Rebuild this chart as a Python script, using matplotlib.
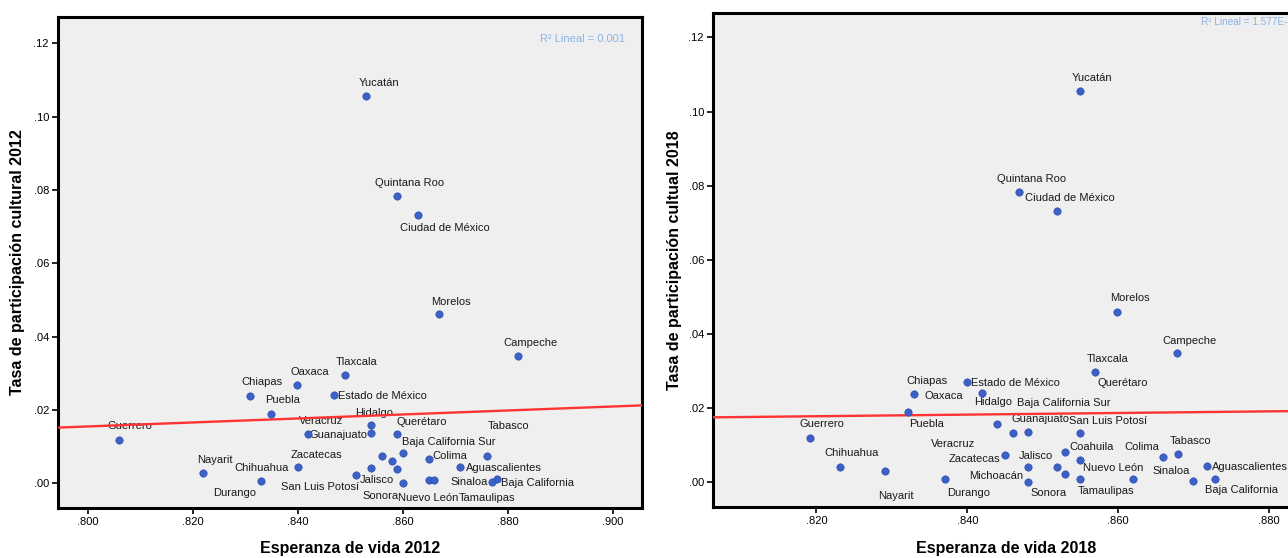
import numpy as np
import matplotlib
matplotlib.use("Agg")
import matplotlib.pyplot as plt
from matplotlib.ticker import FuncFormatter, MultipleLocator

plt.rcParams['font.family'] = ['Liberation Sans', 'DejaVu Sans']

states = ["Aguascalientes", "Baja California", "Baja California Sur", "Campeche",
          "Coahuila", "Colima", "Chiapas", "Chihuahua", "Ciudad de México",
          "Durango", "Guanajuato", "Guerrero", "Hidalgo", "Jalisco",
          "Estado de México", "Michoacán", "Morelos", "Nayarit", "Nuevo León",
          "Oaxaca", "Puebla", "Querétaro", "Quintana Roo", "San Luis Potosí",
          "Sinaloa", "Sonora", "Tabasco", "Tamaulipas", "Tlaxcala", "Veracruz",
          "Yucatán", "Zacatecas"]

# esperanza de vida (indice) y tasa de participacion cultural
vida_2012 = [0.8710, 0.8780, 0.8600, 0.8820, 0.8580, 0.8650, 0.8309, 0.8400,
             0.8629, 0.8330, 0.8540, 0.8060, 0.8540, 0.8540, 0.8469, 0.8590,
             0.8669, 0.8220, 0.8650, 0.8399, 0.8349, 0.8590, 0.8589, 0.8510,
             0.8770, 0.8600, 0.8761, 0.8660, 0.8490, 0.8420, 0.8530, 0.8560]
cultura_2012 = [0.0044, 0.0012, 0.0083, 0.0347, 0.0062, 0.0066, 0.0238, 0.0044,
                0.0732, 0.0006, 0.0137, 0.0118, 0.0159, 0.0042, 0.0241, 0.0040,
                0.0462, 0.0028, 0.0009, 0.0268, 0.0189, 0.0134, 0.0783, 0.0023,
                0.0003, 0.0002, 0.0075, 0.0009, 0.0295, 0.0134, 0.1056, 0.0074]

vida_2018 = [0.8718, 0.8728, 0.8529, 0.8678, 0.8549, 0.8659, 0.8330, 0.8231,
             0.8519, 0.8370, 0.8480, 0.8191, 0.8440, 0.8519, 0.8420, 0.8480,
             0.8599, 0.8291, 0.8619, 0.8400, 0.8321, 0.8549, 0.8469, 0.8529,
             0.8699, 0.8480, 0.8679, 0.8549, 0.8569, 0.8460, 0.8549, 0.8450]
cultura_2018 = [0.0044, 0.0009, 0.0082, 0.0348, 0.0060, 0.0067, 0.0238, 0.0042,
                0.0731, 0.0008, 0.0136, 0.0119, 0.0158, 0.0040, 0.0240, 0.0042,
                0.0460, 0.0029, 0.0008, 0.0269, 0.0190, 0.0134, 0.0782, 0.0022,
                0.0003, 0.0001, 0.0076, 0.0009, 0.0296, 0.0133, 0.1055, 0.0074]

r2_2012 = "R² Lineal = 0.001"
r2_2018 = "R² Lineal = 1.577E-4"

# where each state label sits relative to its point: (dx px, dy px downward, align)
labels_2012 = {
    "Yucatán": (12.5, -13.3, "center"), "Quintana Roo": (13, -13.3, "center"),
    "Ciudad de México": (26.5, 12.7, "center"), "Morelos": (12, -12.3, "center"),
    "Campeche": (12, -13.3, "center"), "Tlaxcala": (12, -13.3, "center"),
    "Oaxaca": (13, -12.7, "center"), "Chiapas": (11.7, -13.7, "center"),
    "Puebla": (12, -14, "center"), "Estado de México": (4.3, 0.7, "left"),
    "Guerrero": (11, -14, "center"), "Nayarit": (12, -13, "center"),
    "Chihuahua": (-9.4, 0.4, "right"), "Durango": (-5, 11.3, "right"),
    "Zacatecas": (-39, -1.7, "right"), "Veracruz": (12.7, -13.3, "center"),
    "Guanajuato": (-3.7, 1.7, "right"), "Hidalgo": (3, -12.3, "center"),
    "Querétaro": (24, -12, "center"), "Baja California Sur": (-1, -11, "left"),
    "Colima": (3.7, -3, "left"), "Aguascalientes": (6, 0.4, "left"),
    "Tabasco": (21.8, -30, "center"), "Sinaloa": (-3.7, 0, "right"),
    "Baja California": (3.4, 3.7, "left"), "Tamaulipas": (24.3, 18.3, "left"),
    "Nuevo León": (-0.7, 18.3, "center"), "Sonora": (-4.4, 13, "right"),
    "Jalisco": (5.7, 12, "center"), "San Luis Potosí": (3.3, 12, "right"),
}
labels_2018 = {
    "Yucatán": (12.5, -13.3, "center"), "Quintana Roo": (12.5, -13.3, "center"),
    "Ciudad de México": (12.7, -13.3, "center"), "Morelos": (12.3, -13.4, "center"),
    "Campeche": (12, -12.6, "center"), "Tlaxcala": (12.8, -13.4, "center"),
    "Querétaro": (43.4, -50, "center"), "Chiapas": (12.3, -13.3, "center"),
    "Oaxaca": (-4, 13.3, "right"), "Estado de México": (-11, -10.6, "left"),
    "Hidalgo": (-4, -21.7, "center"), "Baja California Sur": (-1, -48.7, "center"),
    "Puebla": (19.3, 12.6, "center"), "Guerrero": (12, -14, "center"),
    "Chihuahua": (12.3, -14, "center"), "Nayarit": (11, 24.3, "center"),
    "Durango": (2, 13.4, "left"), "Veracruz": (-37.7, 11, "right"),
    "Guanajuato": (12.8, -12.4, "center"), "San Luis Potosí": (4.7, -53, "left"),
    "Coahuila": (11.7, -12.7, "center"), "Colima": (-21, -10.3, "center"),
    "Tabasco": (12.6, -12.6, "center"), "Sinaloa": (-22, -10.3, "center"),
    "Aguascalientes": (4.6, 0.7, "left"), "Baja California": (26.7, 11, "center"),
    "Nuevo León": (-19, -11.6, "center"), "Tamaulipas": (26.2, 12, "center"),
    "Sonora": (21.3, 11.3, "center"), "Jalisco": (-21, -11.3, "center"),
    "Michoacán": (-4.4, 9, "right"), "Zacatecas": (-4.6, 4.3, "right"),
}

W, H = 1288, 558
fig = plt.figure(figsize=(W / 100, H / 100), dpi=100)


def panel(rect, x, y, labels, xlim, ylim, xlabel, ylabel, r2, r2_pos, r2_size,
          xticks):
    ax = fig.add_axes(rect)
    ax.set_facecolor("#efefef")
    x = np.array(x)
    y = np.array(y)

    for name, xi, yi in zip(states, x, y):
        if name not in labels:
            continue
        dx, dy, ha = labels[name]
        ax.annotate(name, (xi, yi), xytext=(dx, -dy), textcoords="offset pixels",
                    ha=ha, va="center", fontsize=8, color="#1a1a1a", zorder=2)

    slope, icpt = np.polyfit(x, y, 1)
    xs = np.array(xlim)
    ax.plot(xs, icpt + slope * xs, color="#ff3333", lw=1.7, zorder=3)
    ax.scatter(x, y, s=28, color="#3c60c6", edgecolors="#2f4fae",
               linewidths=0.5, zorder=4)

    ax.set_xlim(xlim)
    ax.set_ylim(ylim)
    ax.set_xticks(xticks)
    ax.yaxis.set_major_locator(MultipleLocator(0.02))
    ax.xaxis.set_major_formatter(FuncFormatter(lambda v, p: f"{v:.3f}".lstrip("0")))
    ax.yaxis.set_major_formatter(FuncFormatter(lambda v, p: f"{v:.2f}".lstrip("0")))
    ax.tick_params(direction="out", length=4, width=1.2, labelsize=8, pad=2.5,
                   colors="black")
    for sp in ax.spines.values():
        sp.set_linewidth(2.2)
        sp.set_color("black")

    ax.set_xlabel(xlabel, fontsize=11.5, fontweight="bold")
    ax.set_ylabel(ylabel, fontsize=11.5, fontweight="bold")
    ax.xaxis.set_label_coords(0.5, -0.068)
    ax.text(r2_pos[0], r2_pos[1], r2, transform=ax.transAxes,
            ha=r2_pos[2], va="center", fontsize=r2_size, color="#8cb4e2")
    return ax


# left panel: 2012
ax1 = panel([58 / W, 1 - 508 / H, (642 - 58) / W, (508 - 17) / H],
            vida_2012, cultura_2012, labels_2012,
            (0.7943, 0.9056), (-0.0067, 0.1272),
            "Esperanza de vida 2012", "Tasa de participación cultural 2012",
            r2_2012, (0.971, 0.955, "right"), 8,
            [0.80, 0.82, 0.84, 0.86, 0.88, 0.90])
ax1.yaxis.set_label_coords(-0.056, 0.5)

# right panel: 2018 (runs past the right edge of the canvas)
ax2 = panel([713 / W, 1 - 507 / H, (1300 - 713) / W, (507 - 13) / H],
            vida_2018, cultura_2018, labels_2018,
            (0.8063, 0.8841), (-0.0067, 0.1266),
            "Esperanza de vida 2018", "Tasa de participación cultual 2018",
            r2_2018, (0.831, 0.981, "left"), 7.2,
            [0.82, 0.84, 0.86, 0.88])
ax2.yaxis.set_label_coords(-0.052, 0.5)

fig.savefig("out.png", dpi=100, facecolor="white")
